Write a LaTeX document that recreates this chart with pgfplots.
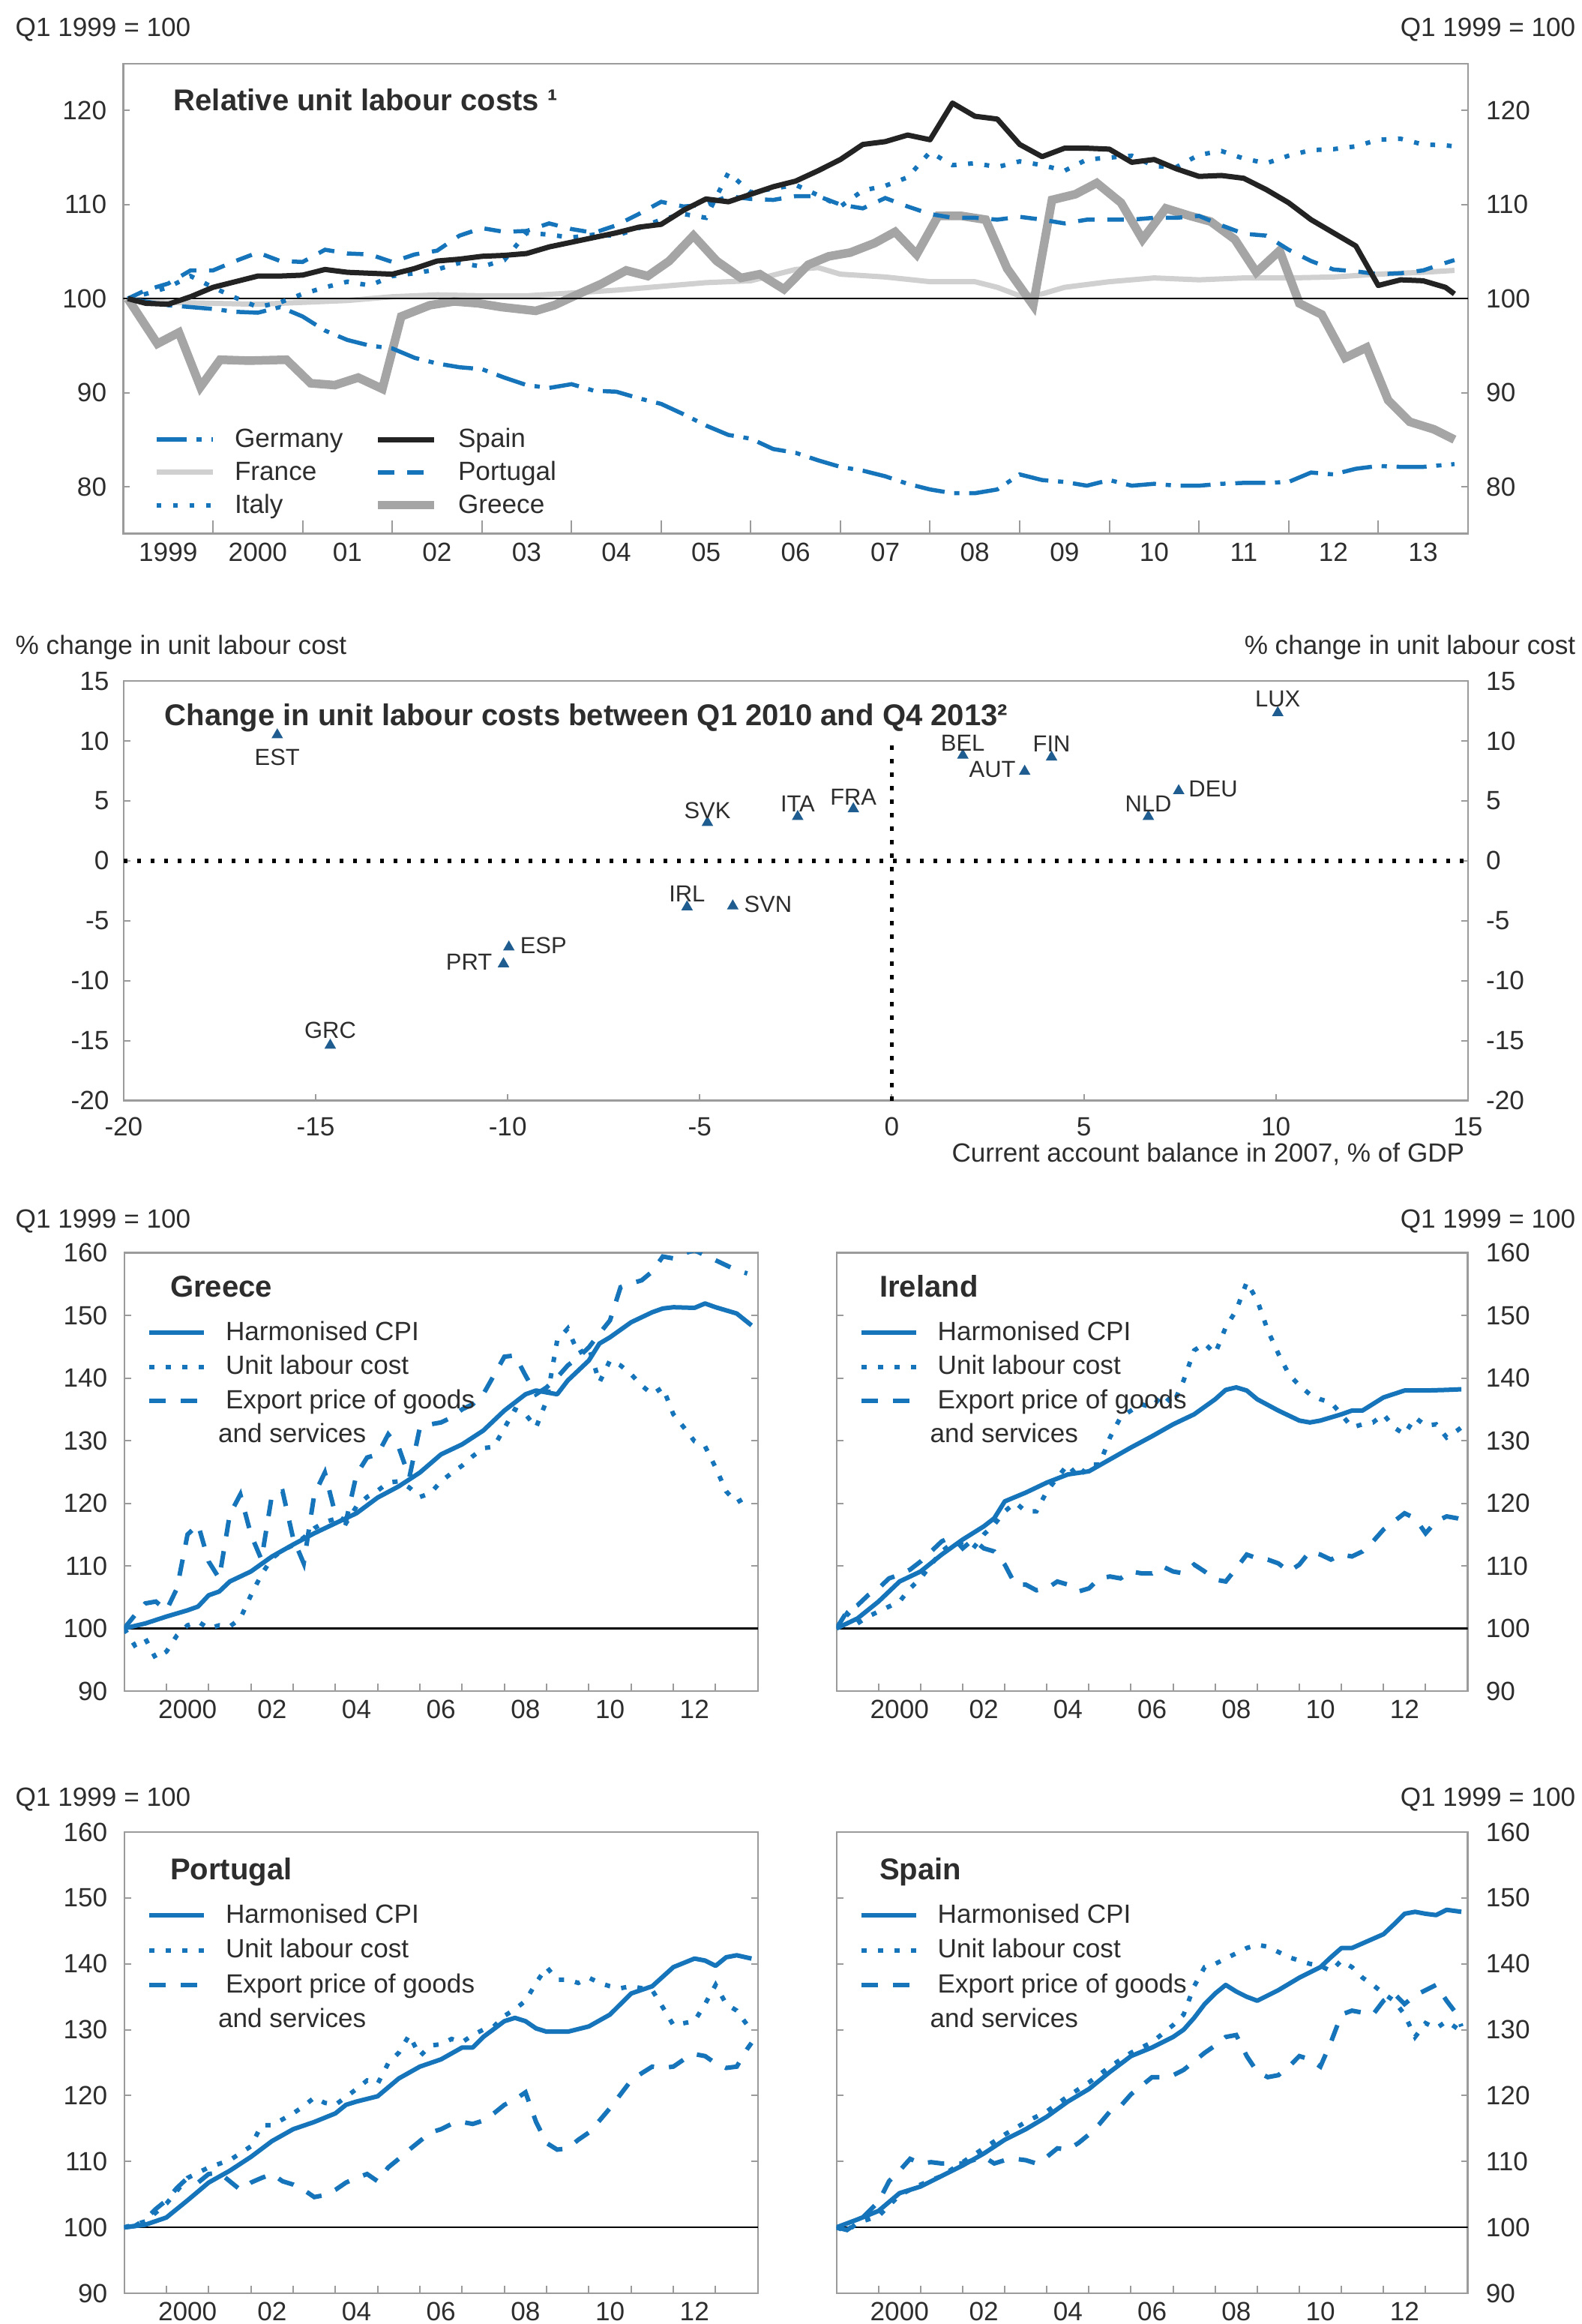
\documentclass[border=0pt]{standalone}
\usepackage{fontspec}
\setmainfont{Liberation Sans}
\usepackage{pgfplots}
\pgfplotsset{compat=1.18}
\definecolor{oblue}{RGB}{22,116,186}
\definecolor{mblue}{RGB}{31,92,143}
\definecolor{spainblk}{RGB}{35,35,35}
\definecolor{frgray}{RGB}{208,208,208}
\definecolor{grgray}{RGB}{165,165,165}
\definecolor{framegray}{RGB}{155,155,155}
\definecolor{txt}{RGB}{45,45,45}
\newcommand{\fnt}{\fontsize{10}{12}\selectfont}
\newcommand{\tfnt}{\fontsize{11.4}{13.5}\selectfont\bfseries}
\newcommand{\lfnt}{\fontsize{8.8}{10.5}\selectfont}
\pgfplotsset{
  myaxis/.style={
    scale only axis, anchor=north west, enlargelimits=false, clip=true,
    axis line style={draw=framegray, line width=0.22mm},
    every tick/.append style={draw=framegray, line width=0.2mm},
    tick align=inside,
    major tick length=0.9mm, minor tick length=0.9mm,
    ticklabel style={font=\fnt, text=txt},
    /pgf/number format/assume math mode=true,
  },
  leftlab/.style={yticklabel style={xshift=-1.0mm}},
  rightlab/.style={yticklabel pos=right, yticklabel style={xshift=1.2mm}},
  rlabels/.style={axis line style={draw=none}, every tick/.append style={draw=none}, xtick=\empty},
  legcommon/.style={
    legend style={draw=none, fill=none, font=\fnt, text=txt, inner sep=0pt, outer sep=0pt,
      anchor=north west, nodes={inner sep=0pt},
      /tikz/every odd column/.append style={column sep=2.6mm},
      /tikz/every even column/.append style={column sep=4.1mm, text height=2.6mm, text depth=0.7mm}},
    legend cell align=left,
  },
  bot/.style={myaxis, legcommon,
    xmin=1999, xmax=2014, ymin=90, ymax=160, ytick={90,100,...,160},
    xtick={1999,2000,...,2014}, xticklabels={}, xtick pos=left,
    x tick style={/pgfplots/major tick length=1.0mm},
    extra x ticks={2000.5,2002.5,...,2012.5},
    extra x tick labels={2000,02,04,06,08,10,12},
    extra x tick style={x tick style={draw=none}},
    legend style={row sep=1.4mm},
    legend image code/.code={\draw[##1] (0mm,0mm) -- (7.3mm,0mm);},
  },
  cpi/.style={oblue, line width=0.6mm, line join=round},
  ulc/.style={oblue, line width=0.6mm, dash pattern=on 0.7mm off 1.5mm},
  exq/.style={oblue, line width=0.6mm, dash pattern=on 2.2mm off 2.0mm},
}
\begin{document}
\begin{tikzpicture}
\useasboundingbox (0,0) rectangle (211mm,-309.9mm);

% ================= Panel 1 =================
\begin{axis}[myaxis, legcommon, at={(16.45mm,-8.48mm)}, width=179.33mm, height=62.68mm,
  xmin=1999, xmax=2014, ymin=75, ymax=125, ytick={80,90,100,110,120}, leftlab,
  xtick={1999,2000,...,2014}, xticklabels={}, minor x tick num=3, xtick pos=left,
  x tick style={/pgfplots/major tick length=1.8mm, /pgfplots/minor tick length=0.9mm},
  extra x ticks={1999.5,2000.5,...,2013.5},
  extra x tick labels={1999,2000,01,02,03,04,05,06,07,08,09,10,11,12,13},
  extra x tick style={x tick style={draw=none}},
  legend columns=2,
  legend style={at={(0.0226,0.225)}, row sep=1.25mm},
  legend image code/.code={\draw[#1] (0mm,0mm) -- (7.5mm,0mm);},
]
\addlegendimage{oblue, line width=0.55mm, dash pattern=on 4mm off 1.3mm on 0.7mm off 1.3mm}
\addlegendentry{Germany}
\addlegendimage{spainblk, line width=0.7mm}
\addlegendentry{Spain}
\addlegendimage{frgray, line width=0.7mm}
\addlegendentry{France}
\addlegendimage{oblue, line width=0.55mm, dash pattern=on 2.2mm off 1.7mm}
\addlegendentry{Portugal}
\addlegendimage{oblue, line width=0.6mm, dash pattern=on 0.65mm off 1.55mm}
\addlegendentry{Italy}
\addlegendimage{grgray, line width=1.15mm}
\addlegendentry{Greece}
% France
\addplot[frgray, line width=0.7mm, line join=round, forget plot] coordinates {
(1999.05,100)(1999.5,99.6)(2000,99.5)(2000.5,99.4)(2001,99.6)(2001.5,99.8)(2002,100.2)(2002.5,100.4)(2003,100.3)(2003.5,100.3)(2004,100.6)(2004.5,100.9)(2005,101.3)(2005.5,101.7)(2006,101.9)(2006.5,103.1)(2006.75,103.3)(2007,102.6)(2007.5,102.3)(2008,101.8)(2008.5,101.8)(2008.75,101.2)(2009,100.3)(2009.25,100.5)(2009.5,101.2)(2010,101.8)(2010.5,102.2)(2011,102)(2011.5,102.2)(2012,102.2)(2012.5,102.3)(2013,102.6)(2013.5,102.8)(2013.85,103)};
% Greece
\addplot[grgray, line width=1.15mm, line join=miter, forget plot] coordinates {
(1999.05,100)(1999.38,95.2)(1999.62,96.4)(1999.86,90.6)(2000.08,93.5)(2000.4,93.4)(2000.82,93.5)(2001.09,91.0)(2001.36,90.8)(2001.62,91.6)(2001.89,90.4)(2002.1,98.1)(2002.42,99.3)(2002.69,99.7)(2002.96,99.5)(2003.22,99.1)(2003.6,98.7)(2003.81,99.3)(2004.08,100.5)(2004.34,101.6)(2004.61,103)(2004.85,102.4)(2005.09,104)(2005.36,106.7)(2005.62,104)(2005.89,102.2)(2006.1,102.6)(2006.37,101)(2006.64,103.6)(2006.87,104.5)(2007.11,104.9)(2007.38,105.9)(2007.61,107.1)(2007.85,104.7)(2008.09,108.8)(2008.35,108.8)(2008.62,108.4)(2008.86,103.2)(2009.15,99.3)(2009.36,110.5)(2009.62,111.1)(2009.86,112.3)(2010.13,110.2)(2010.37,106.3)(2010.63,109.6)(2010.9,108.8)(2011.13,108.2)(2011.4,106.3)(2011.64,102.8)(2011.9,105.1)(2012.12,99.5)(2012.37,98.3)(2012.63,93.7)(2012.87,94.8)(2013.11,89.2)(2013.35,86.9)(2013.62,86.1)(2013.85,85)};
\addplot[black, line width=0.25mm, forget plot] coordinates {(1999,100)(2014,100)};
% Germany
\addplot[oblue, line width=0.55mm, dash pattern=on 4mm off 1.3mm on 0.7mm off 1.3mm, forget plot] coordinates {
(1999.05,100)(1999.5,99.3)(2000,98.9)(2000.25,98.6)(2000.5,98.5)(2000.75,99.1)(2001,98.1)(2001.25,96.6)(2001.5,95.6)(2001.75,95)(2002,94.7)(2002.25,93.7)(2002.5,93.1)(2002.75,92.7)(2003,92.5)(2003.25,91.6)(2003.5,90.8)(2003.75,90.5)(2004,90.9)(2004.25,90.2)(2004.5,90.1)(2004.75,89.4)(2005,88.8)(2005.25,87.7)(2005.5,86.5)(2005.75,85.5)(2006,85.1)(2006.25,84)(2006.5,83.6)(2006.75,82.8)(2007,82.1)(2007.25,81.7)(2007.5,81.1)(2007.75,80.3)(2008,79.7)(2008.25,79.3)(2008.5,79.3)(2008.75,79.7)(2009,81.3)(2009.25,80.7)(2009.5,80.5)(2009.75,80.1)(2010,80.7)(2010.25,80.1)(2010.5,80.3)(2010.75,80.1)(2011,80.1)(2011.25,80.3)(2011.5,80.4)(2011.75,80.4)(2012,80.5)(2012.25,81.5)(2012.5,81.3)(2012.75,81.9)(2013,82.2)(2013.25,82.1)(2013.5,82.1)(2013.85,82.4)};
% Portugal
\addplot[oblue, line width=0.55mm, dash pattern=on 2.2mm off 1.7mm, forget plot] coordinates {
(1999.05,100)(1999.25,100.9)(1999.5,101.6)(1999.75,103)(2000,103)(2000.25,104)(2000.5,104.9)(2000.75,104)(2001,103.9)(2001.25,105.2)(2001.5,104.8)(2001.75,104.7)(2002,103.9)(2002.25,104.7)(2002.5,105.1)(2002.75,106.7)(2003,107.5)(2003.25,107.1)(2003.5,107.2)(2003.75,108)(2004,107.4)(2004.25,107)(2004.5,107.8)(2004.75,109)(2005,110.3)(2005.25,109.8)(2005.5,110)(2005.75,110.9)(2006,110.6)(2006.25,110.5)(2006.5,110.9)(2006.75,110.9)(2007,110)(2007.25,109.6)(2007.5,110.7)(2007.75,109.8)(2008,109)(2008.25,108.6)(2008.5,108.6)(2008.75,108.4)(2009,108.7)(2009.25,108.4)(2009.5,108)(2009.75,108.4)(2010,108.4)(2010.25,108.4)(2010.5,108.6)(2010.75,108.6)(2011,108.8)(2011.25,107.8)(2011.5,106.9)(2011.75,106.7)(2012,105.2)(2012.25,104)(2012.5,103.1)(2012.75,102.9)(2013,102.6)(2013.25,102.7)(2013.5,103)(2013.75,103.8)(2013.85,104.1)};
% Italy
\addplot[oblue, line width=0.6mm, dash pattern=on 0.65mm off 1.55mm, forget plot] coordinates {
(1999.05,100)(1999.25,100.5)(1999.5,101.2)(1999.75,102.4)(2000,101.2)(2000.25,100.1)(2000.5,99.1)(2000.75,99.6)(2001,100.5)(2001.25,101.2)(2001.5,101.8)(2001.75,101.4)(2002,102.4)(2002.25,102.7)(2002.5,103.1)(2002.75,103.8)(2003,103.4)(2003.25,104.1)(2003.5,107.0)(2003.75,106.8)(2004,106.5)(2004.25,106.8)(2004.5,106.7)(2004.75,107.5)(2005,108.4)(2005.25,109)(2005.5,108.6)(2005.75,113.4)(2006,111.3)(2006.25,111.7)(2006.5,112.1)(2006.75,111)(2007,109.8)(2007.25,111.5)(2007.5,112)(2007.75,112.9)(2008,115.6)(2008.25,114.2)(2008.5,114.4)(2008.75,114)(2009,114.6)(2009.25,114.2)(2009.5,113.6)(2009.75,114.8)(2010,115.0)(2010.25,115.2)(2010.5,114.1)(2010.75,114.0)(2011,115.3)(2011.25,115.7)(2011.5,114.9)(2011.75,114.4)(2012,115.2)(2012.25,115.8)(2012.5,115.9)(2012.75,116.2)(2013,116.9)(2013.25,117.0)(2013.5,116.4)(2013.75,116.3)(2013.85,116.2)};
% Spain
\addplot[spainblk, line width=0.7mm, line join=round, forget plot] coordinates {
(1999.05,100)(1999.25,99.5)(1999.5,99.4)(1999.75,100.2)(2000,101.2)(2000.25,101.8)(2000.5,102.4)(2000.75,102.4)(2001,102.5)(2001.25,103.1)(2001.5,102.8)(2001.75,102.7)(2002,102.6)(2002.25,103.2)(2002.5,104.0)(2002.75,104.2)(2003,104.5)(2003.25,104.6)(2003.5,104.8)(2003.75,105.5)(2004,106)(2004.25,106.5)(2004.5,107)(2004.75,107.6)(2005,107.9)(2005.25,109.4)(2005.5,110.6)(2005.75,110.3)(2006,111.1)(2006.25,111.9)(2006.5,112.5)(2006.75,113.6)(2007,114.8)(2007.25,116.4)(2007.5,116.7)(2007.75,117.4)(2008,116.9)(2008.25,120.8)(2008.5,119.4)(2008.75,119.1)(2009,116.4)(2009.25,115.1)(2009.5,116.0)(2009.75,116.0)(2010,115.9)(2010.25,114.5)(2010.5,114.8)(2010.75,113.8)(2011,113.0)(2011.25,113.1)(2011.5,112.8)(2011.75,111.6)(2012,110.2)(2012.25,108.4)(2012.5,107.0)(2012.75,105.6)(2013,101.4)(2013.25,102.0)(2013.5,101.9)(2013.75,101.2)(2013.85,100.5)};
\end{axis}
\begin{axis}[myaxis, rlabels, at={(16.45mm,-8.48mm)}, width=179.33mm, height=62.68mm,
  xmin=1999, xmax=2014, ymin=75, ymax=125, ytick={80,90,100,110,120}, rightlab]
\end{axis}

% ================= Panel 2 =================
\begin{axis}[myaxis, at={(16.49mm,-90.81mm)}, width=179.29mm, height=55.94mm,
  xmin=-20, xmax=15, ymin=-20, ymax=15,
  xtick={-20,-15,...,15}, xticklabels={-20,-15,-10,-5,0,5,10,15},
  ytick={-20,-15,...,15}, yticklabels={-20,-15,-10,-5,0,5,10,15},
  xtick pos=left, xticklabel style={yshift=-1mm}, yticklabel style={xshift=-0.7mm}]
\addplot[black, line width=0.55mm, dash pattern=on 0.55mm off 1.25mm] coordinates {(-20,0)(15,0)};
\addplot[black, line width=0.55mm, dash pattern=on 0.55mm off 1.25mm] coordinates {(0,-20)(0,10)};
\addplot[only marks, mark=triangle*, mark size=0.75mm, mblue, mark options={draw=mblue, fill=mblue},
  nodes near coords, point meta=explicit symbolic,
  visualization depends on={value \thisrow{dx}\as\dx},
  visualization depends on={value \thisrow{dy}\as\dy},
  every node near coord/.append style={anchor=center, xshift=\dx mm, yshift=\dy mm, font=\lfnt, text=txt, inner sep=0pt}]
table[meta=lab] {
x y lab dx dy
-16.0 10.5 EST 0 -2.96
10.05 12.35 LUX 0 1.8
1.85 8.8 BEL 0 1.6
4.16 8.65 FIN 0 1.8
3.46 7.46 AUT -4.3 0.25
7.47 5.84 DEU 4.6 0.3
6.68 3.69 NLD 0 1.75
-2.45 3.69 ITA 0 1.75
-1.0 4.33 FRA 0 1.6
-4.8 3.19 SVK 0 1.6
-5.33 -3.85 IRL 0 1.75
-4.14 -3.77 SVN 4.7 0.2
-9.97 -7.2 ESP 4.6 0.2
-10.11 -8.6 PRT -4.6 0.2
-14.62 -15.39 GRC 0 1.95
};
\end{axis}
\begin{axis}[myaxis, rlabels, at={(16.49mm,-90.81mm)}, width=179.29mm, height=55.94mm,
  xmin=-20, xmax=15, ymin=-20, ymax=15,
  ytick={-20,-15,...,15}, yticklabels={-20,-15,-10,-5,0,5,10,15}, rightlab]
\end{axis}

% ================= Greece =================
\begin{axis}[bot, leftlab, at={(16.56mm,-167.05mm)}, width=84.52mm, height=58.45mm,
  legend style={at={(0.036,0.844)}}]
\addplot[black, line width=0.25mm, forget plot] coordinates {(1999,100)(2014,100)};
\addplot[cpi] coordinates {
(1999,100)(1999.5,100.8)(2000,101.9)(2000.5,102.9)(2000.75,103.5)(2001,105.3)(2001.25,105.9)(2001.5,107.5)(2002,109.1)(2002.5,111.5)(2003,113.4)(2003.5,115.2)(2004,116.8)(2004.5,118.4)(2005,120.9)(2005.5,122.7)(2006,124.9)(2006.5,127.8)(2007,129.4)(2007.5,131.6)(2008,134.8)(2008.5,137.4)(2008.75,138)(2009,137.7)(2009.25,137.4)(2009.5,139.6)(2010,142.8)(2010.25,145.5)(2010.5,146.5)(2011,148.9)(2011.5,150.5)(2011.75,151.1)(2012,151.3)(2012.5,151.2)(2012.75,151.9)(2013,151.3)(2013.5,150.3)(2013.85,148.4)};
\addlegendentry{Harmonised CPI}
\addplot[ulc] coordinates {
(1999,100)(1999.25,97.3)(1999.5,98.4)(1999.75,95.2)(2000,96.3)(2000.25,98.9)(2000.5,100.5)(2000.75,101.1)(2001,100)(2001.25,100.5)(2001.5,100.3)(2001.75,101.6)(2002,105.3)(2002.25,108.6)(2002.5,111.2)(2002.75,112.5)(2003,113.3)(2003.25,114.5)(2003.5,116.0)(2003.75,117.0)(2004,117.5)(2004.25,116.8)(2004.5,119.5)(2004.75,121.0)(2005,122.0)(2005.25,123.3)(2005.5,123.5)(2005.75,122.5)(2006,121.0)(2006.25,121.6)(2006.5,123.5)(2006.75,124.8)(2007,126)(2007.25,127.5)(2007.5,128.8)(2007.75,129.0)(2008,132)(2008.25,135)(2008.5,134.2)(2008.75,132.1)(2009,136.4)(2009.25,146)(2009.5,147.9)(2009.75,143.9)(2010,144.9)(2010.25,139.3)(2010.5,142.8)(2010.75,142)(2011,140.6)(2011.25,138.8)(2011.5,137.4)(2011.75,138.5)(2012,134.2)(2012.25,132.1)(2012.5,129.9)(2012.75,129.1)(2013,125.7)(2013.25,121.9)(2013.5,120.1)(2013.75,121.1)};
\addlegendentry{Unit labour cost}
\addplot[exq] coordinates {
(1999,100)(1999.25,102.1)(1999.5,104)(1999.75,104.3)(2000,102.9)(2000.25,106.4)(2000.5,115)(2000.75,116.6)(2001,110.7)(2001.25,108)(2001.5,118.2)(2001.75,121.4)(2002,115)(2002.25,111)(2002.5,121.4)(2002.75,121.9)(2003,114.4)(2003.25,110.4)(2003.5,121.4)(2003.75,124.9)(2004,118.2)(2004.25,117.1)(2004.5,124.6)(2004.75,127.3)(2005,127.8)(2005.25,131)(2005.5,128.9)(2005.75,124.1)(2006,132.1)(2006.25,132.6)(2006.5,132.9)(2006.75,133.7)(2007,135)(2007.25,135.8)(2007.5,137.4)(2007.75,140.4)(2008,143.4)(2008.25,143.6)(2008.5,140.4)(2008.75,137.4)(2009,138.5)(2009.25,140.1)(2009.5,142)(2009.75,143.3)(2010,144.9)(2010.25,147.1)(2010.5,149.2)(2010.75,154.5)(2011,155.1)(2011.25,155.6)(2011.5,157)(2011.75,159.4)(2012,159.1)(2012.25,159.9)(2012.5,160.4)(2012.75,159.6)(2013,158.8)(2013.25,158)(2013.5,157.2)(2013.75,156.7)};
\addlegendentry{Export price of goods}
\addlegendimage{empty legend}
\addlegendentry{\hspace*{-1mm}and services}
\end{axis}

% ================= Ireland =================
\begin{axis}[bot, rightlab, at={(111.56mm,-167.05mm)}, width=84.19mm, height=58.45mm,
  legend style={at={(0.0357,0.844)}}]
\addplot[black, line width=0.25mm, forget plot] coordinates {(1999,100)(2014,100)};
\addplot[cpi] coordinates {
(1999,100)(1999.5,101.6)(2000,104.3)(2000.5,107.5)(2001,109.1)(2001.5,111.8)(2002,114.2)(2002.5,116.3)(2002.75,117.6)(2003,120.3)(2003.5,121.7)(2004,123.3)(2004.5,124.6)(2005,125.1)(2005.5,127)(2006,128.9)(2006.5,130.7)(2007,132.6)(2007.5,134.2)(2008,136.6)(2008.25,138.1)(2008.5,138.5)(2008.75,138)(2009,136.6)(2009.5,134.8)(2010,133.2)(2010.25,132.9)(2010.5,133.2)(2011,134.2)(2011.25,134.8)(2011.5,134.8)(2012,136.9)(2012.5,138)(2013,138)(2013.5,138.1)(2013.85,138.2)};
\addlegendentry{Harmonised CPI}
\addplot[ulc] coordinates {
(1999,100)(1999.25,102.4)(1999.5,100.8)(1999.75,101.9)(2000,102.7)(2000.25,103.5)(2000.5,104.3)(2000.75,106.4)(2001,108)(2001.25,110.2)(2001.5,112.3)(2001.75,113.6)(2002,113.4)(2002.25,112.8)(2002.5,115)(2002.75,116.6)(2003,118.7)(2003.25,120.1)(2003.5,118.7)(2003.75,118.7)(2004,121.9)(2004.25,124.1)(2004.5,126.2)(2004.75,124.1)(2005,126.2)(2005.25,126.2)(2005.5,130.5)(2005.75,133.7)(2006,134.8)(2006.25,135.8)(2006.5,135.3)(2006.75,137.4)(2007,135.8)(2007.25,139.6)(2007.5,144.4)(2007.75,145.5)(2008,143.9)(2008.25,148.1)(2008.5,150.8)(2008.75,155.3)(2009,152.4)(2009.25,147.6)(2009.5,143.9)(2009.75,140.6)(2010,138.8)(2010.25,137.4)(2010.5,136.6)(2010.75,136.1)(2011,134.2)(2011.25,132.1)(2011.5,132.6)(2011.75,132.9)(2012,134.2)(2012.25,132.1)(2012.5,131)(2012.75,133.7)(2013,132.4)(2013.25,132.6)(2013.5,130.5)(2013.75,131.6)(2013.85,132.1)};
\addlegendentry{Unit labour cost}
\addplot[exq] coordinates {
(1999,100)(1999.25,102.7)(1999.5,103.7)(1999.75,105.3)(2000,106.4)(2000.25,108)(2000.5,108.6)(2000.75,109.4)(2001,110.7)(2001.25,112.3)(2001.5,113.9)(2001.75,114.7)(2002,112.8)(2002.25,114.2)(2002.5,112.8)(2002.75,112.3)(2003,110.2)(2003.25,107)(2003.5,107)(2003.75,106.1)(2004,106.4)(2004.25,107.5)(2004.5,107)(2004.75,105.9)(2005,106.4)(2005.25,108)(2005.5,108.3)(2005.75,108)(2006,109.1)(2006.25,108.8)(2006.5,108.8)(2006.75,109.9)(2007,109.1)(2007.25,108.8)(2007.5,110.2)(2007.75,109.1)(2008,107.8)(2008.25,107.5)(2008.5,109.6)(2008.75,111.8)(2009,111.2)(2009.25,111)(2009.5,110.4)(2009.75,109.1)(2010,110.2)(2010.25,112.3)(2010.5,111.8)(2010.75,111)(2011,111.8)(2011.25,111.5)(2011.5,112.3)(2011.75,113.9)(2012,115.8)(2012.25,117.1)(2012.5,118.4)(2012.75,117.6)(2013,115.2)(2013.25,117.1)(2013.5,117.9)(2013.75,117.6)(2013.85,117.4)};
\addlegendentry{Export price of goods}
\addlegendimage{empty legend}
\addlegendentry{\hspace*{-1mm}and services}
\end{axis}

% ================= Portugal =================
\begin{axis}[bot, leftlab, at={(16.56mm,-244.3mm)}, width=84.52mm, height=61.5mm,
  legend style={at={(0.036,0.8446)}, row sep=1.5mm}]
\addplot[black, line width=0.25mm, forget plot] coordinates {(1999,100)(2014,100)};
\addplot[cpi] coordinates {
(1999,100)(1999.5,100.4)(2000,101.5)(2000.5,104.1)(2001,106.8)(2001.5,108.6)(2002,110.7)(2002.5,113.1)(2003,114.9)(2003.5,116)(2004,117.3)(2004.25,118.6)(2004.5,119.1)(2005,119.9)(2005.5,122.6)(2006,124.4)(2006.5,125.5)(2007,127.3)(2007.25,127.3)(2007.5,128.9)(2008,131.3)(2008.25,131.8)(2008.5,131.3)(2008.75,130.2)(2009,129.7)(2009.5,129.7)(2010,130.5)(2010.5,132.3)(2011,135.5)(2011.5,136.6)(2012,139.5)(2012.5,140.8)(2012.75,140.5)(2013,139.7)(2013.25,141)(2013.5,141.3)(2013.85,140.8)};
\addlegendentry{Harmonised CPI}
\addplot[ulc] coordinates {
(1999,100)(1999.5,100.9)(2000,103.6)(2000.5,107.5)(2001,109.1)(2001.5,110.2)(2002,112.3)(2002.25,115.5)(2002.5,115.5)(2003,117.3)(2003.25,118.4)(2003.5,119.7)(2003.75,118.9)(2004,118.6)(2004.5,121)(2004.75,122.3)(2005,121.8)(2005.25,124.9)(2005.5,126.5)(2005.75,129.2)(2006,126)(2006.25,127.6)(2006.5,127.8)(2006.75,128.6)(2007,128.1)(2007.25,129.2)(2007.5,130)(2007.75,130.5)(2008,132.1)(2008.25,133.1)(2008.5,134.4)(2008.75,137.1)(2009,139.5)(2009.25,137.6)(2009.5,137.6)(2009.75,137.1)(2010,137.9)(2010.25,137.1)(2010.5,136.6)(2010.75,136.3)(2011,136.6)(2011.25,136.3)(2011.5,136)(2011.75,133.4)(2012,130.7)(2012.25,131)(2012.5,131.3)(2012.75,133.9)(2013,136.8)(2013.25,133.9)(2013.5,132.9)(2013.75,130.7)(2013.85,130)};
\addlegendentry{Unit labour cost}
\addplot[exq] coordinates {
(1999,100)(1999.25,100.2)(1999.5,101.2)(1999.75,102.8)(2000,104.1)(2000.25,106)(2000.5,107.5)(2000.75,106.8)(2001,108.1)(2001.25,108.3)(2001.5,107)(2001.75,105.7)(2002,106.8)(2002.25,107.5)(2002.5,108.1)(2002.75,107)(2003,106.5)(2003.25,105.7)(2003.5,104.6)(2003.75,104.9)(2004,105.7)(2004.25,106.8)(2004.5,107.5)(2004.75,108.1)(2005,107)(2005.25,109.1)(2005.5,110.4)(2005.75,111.8)(2006,113.1)(2006.25,114.4)(2006.5,114.9)(2006.75,115.7)(2007,116)(2007.25,115.7)(2007.5,116.2)(2007.75,117.3)(2008,118.6)(2008.25,119.4)(2008.5,120.5)(2008.75,116)(2009,112.8)(2009.25,111.8)(2009.5,112)(2009.75,113.3)(2010,114.4)(2010.25,116.2)(2010.5,118.1)(2010.75,120.2)(2011,122.3)(2011.25,123.4)(2011.5,124.4)(2011.75,124.2)(2012,124.4)(2012.25,125.5)(2012.5,126.3)(2012.75,126)(2013,124.9)(2013.25,124.2)(2013.5,124.4)(2013.75,127.1)(2013.85,128)};
\addlegendentry{Export price of goods}
\addlegendimage{empty legend}
\addlegendentry{\hspace*{-1mm}and services}
\end{axis}

% ================= Spain =================
\begin{axis}[bot, rightlab, at={(111.56mm,-244.3mm)}, width=84.19mm, height=61.5mm,
  legend style={at={(0.0357,0.8446)}, row sep=1.5mm}]
\addplot[black, line width=0.25mm, forget plot] coordinates {(1999,100)(2014,100)};
\addplot[cpi] coordinates {
(1999,100)(1999.5,101.2)(2000,102.5)(2000.5,105.2)(2000.75,105.7)(2001,106.2)(2001.5,107.8)(2002,109.4)(2002.5,111.2)(2003,113.3)(2003.5,114.9)(2004,116.8)(2004.5,119.1)(2005,121)(2005.5,123.6)(2006,126)(2006.5,127.3)(2007,128.9)(2007.25,130)(2007.5,131.8)(2007.75,133.9)(2008,135.5)(2008.25,136.8)(2008.5,135.8)(2008.75,135)(2009,134.4)(2009.5,136)(2010,137.9)(2010.5,139.5)(2010.75,141)(2011,142.4)(2011.25,142.4)(2011.5,143.1)(2012,144.5)(2012.25,146)(2012.5,147.6)(2012.75,147.9)(2013,147.6)(2013.25,147.4)(2013.5,148.2)(2013.85,147.9)};
\addlegendentry{Harmonised CPI}
\addplot[ulc] coordinates {
(1999,100)(1999.25,99.4)(1999.5,100.7)(2000,101.7)(2000.5,104.9)(2001,106.5)(2001.5,107.8)(2002,109.9)(2002.5,112)(2003,114.1)(2003.5,116)(2004,117.6)(2004.5,119.9)(2005,122)(2005.5,124.4)(2006,126.5)(2006.5,128.1)(2007,130.7)(2007.25,132.3)(2007.5,136.6)(2007.75,139.5)(2008,140)(2008.25,140.8)(2008.5,141.6)(2008.75,142.4)(2009,142.9)(2009.25,142.6)(2009.5,141.8)(2009.75,141)(2010,140.5)(2010.25,140)(2010.5,139.7)(2010.75,138.9)(2011,140.5)(2011.25,139.5)(2011.5,137.9)(2011.75,136.8)(2012,135.5)(2012.25,134.4)(2012.5,132.3)(2012.75,128.9)(2013,131)(2013.25,130.2)(2013.5,131.3)(2013.75,130.2)};
\addlegendentry{Unit labour cost}
\addplot[exq] coordinates {
(1999,100)(1999.25,99.6)(1999.5,100.7)(1999.75,102.3)(2000,103.9)(2000.25,107)(2000.5,108.6)(2000.75,110.4)(2001,109.7)(2001.25,109.9)(2001.5,109.7)(2001.75,109.7)(2002,109.7)(2002.25,110.2)(2002.5,110.7)(2002.75,109.7)(2003,110.2)(2003.25,110.4)(2003.5,110.2)(2003.75,109.7)(2004,110.7)(2004.25,112)(2004.5,111.8)(2004.75,112.8)(2005,114.1)(2005.25,115.7)(2005.5,117.6)(2005.75,118.4)(2006,120.2)(2006.25,121.5)(2006.5,122.8)(2006.75,122.8)(2007,123.1)(2007.25,123.9)(2007.5,125.2)(2007.75,126.5)(2008,127.6)(2008.25,128.9)(2008.5,129.2)(2008.75,126)(2009,123.6)(2009.25,122.8)(2009.5,123.1)(2009.75,124.4)(2010,126)(2010.25,125.5)(2010.5,124.4)(2010.75,128.1)(2011,132.3)(2011.25,132.9)(2011.5,132.6)(2011.75,132.3)(2012,134.4)(2012.25,135.5)(2012.5,133.9)(2012.75,135.2)(2013,136)(2013.25,136.8)(2013.5,134.4)(2013.75,132.3)(2013.85,130.5)};
\addlegendentry{Export price of goods}
\addlegendimage{empty legend}
\addlegendentry{\hspace*{-1mm}and services}
\end{axis}

% ================= Headers and titles =================
\begin{scope}[every node/.style={inner sep=0pt, text=txt, font=\fnt}]
\node[anchor=base west] at (2.0mm,-4.86mm) {Q1 1999 = 100};
\node[anchor=base east] at (210.2mm,-4.86mm) {Q1 1999 = 100};
\node[anchor=base west] at (2.0mm,-87.26mm) {\% change in unit labour cost};
\node[anchor=base east] at (210.2mm,-87.26mm) {\% change in unit labour cost};
\node[anchor=base east] at (195.4mm,-154.96mm) {Current account balance in 2007, \% of GDP};
\node[anchor=base west] at (2.0mm,-163.76mm) {Q1 1999 = 100};
\node[anchor=base east] at (210.2mm,-163.76mm) {Q1 1999 = 100};
\node[anchor=base west] at (2.0mm,-240.86mm) {Q1 1999 = 100};
\node[anchor=base east] at (210.2mm,-240.86mm) {Q1 1999 = 100};
\node[anchor=base west, font=\tfnt] at (23.1mm,-14.74mm) {Relative unit labour costs ¹};
\node[anchor=base west, font=\tfnt] at (21.9mm,-96.74mm) {Change in unit labour costs between Q1 2010 and Q4 2013²};
\node[anchor=base west, font=\tfnt] at (22.65mm,-172.94mm) {Greece};
\node[anchor=base west, font=\tfnt] at (117.25mm,-172.94mm) {Ireland};
\node[anchor=base west, font=\tfnt] at (22.65mm,-250.64mm) {Portugal};
\node[anchor=base west, font=\tfnt] at (117.25mm,-250.64mm) {Spain};
\end{scope}
\end{tikzpicture}
\end{document}
